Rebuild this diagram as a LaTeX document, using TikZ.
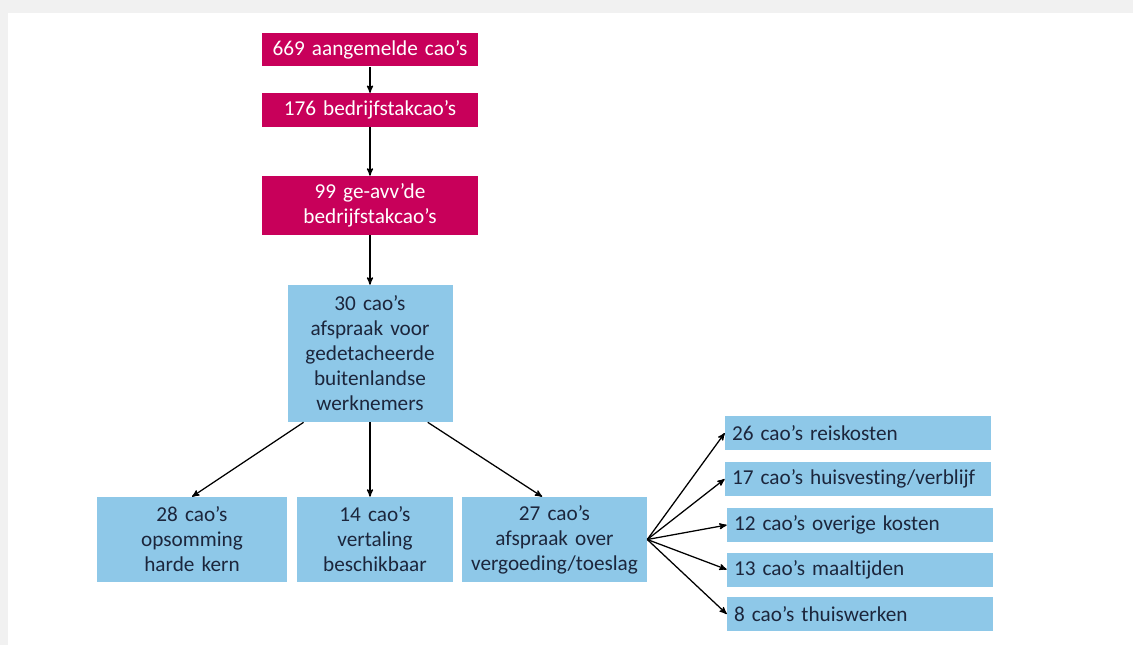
\documentclass[tikz,border=0pt]{standalone}
\usepackage{fontspec}
\setmainfont{Carlito}[Ligatures=NoCommon]
\usepackage{tikz}
\usetikzlibrary{arrows,positioning}
\definecolor{roze}{RGB}{200,0,90}
\definecolor{lichtblauw}{RGB}{142,200,232}
\definecolor{donker}{RGB}{28,38,60}
\definecolor{rand}{RGB}{241,241,241}
\tikzset{
    %Define standard arrow tip
    >=stealth',
    %Define style for the pink boxes
    roosvak/.style={
           rectangle,
           fill=roze,
           text=white,
           text width=5.1cm,
           inner xsep=0.15cm,
           inner ysep=0pt,
           minimum height=0.84cm,
           font=\fontsize{15.1}{17.8}\selectfont,
           text centered},
    %Define style for the blue boxes
    blauwvak/.style={
           rectangle,
           fill=lichtblauw,
           text=donker,
           inner xsep=0.15cm,
           inner ysep=0pt,
           font=\fontsize{15.1}{17.8}\selectfont,
           text centered},
    %Define style for the cost boxes
    kostvak/.style={
           blauwvak,
           text width=6.3cm,
           inner xsep=0.175cm,
           minimum height=0.85cm,
           align=left},
    % Define arrow style
    pijl/.style={
           ->,
           line width=0.9pt}
}
\begin{document}
\begin{tikzpicture}

\useasboundingbox (0,0) rectangle (28.325,-16.125);
% page frame
\fill[rand] (0,0) rectangle (28.325,-16.125);
\fill[white] (0.2,-0.325) rectangle (28.325,-16.125);

%registered
\node[roosvak] (aangemeld) at (9.25,-1.2375) {669 aangemelde cao’s};
%sector
\node[roosvak] (sector) at (9.25,-2.75) {176 bedrijfstakcao’s}
  edge[pijl, <-] (aangemeld);
%avv
\node[roosvak, minimum height=1.475cm] (avv) at (9.25,-5.1375) {99 ge-avv’de\\bedrijfstakcao’s}
  edge[pijl, <-] (sector);
%posted workers
\node[blauwvak, text width=3.825cm, minimum height=3.425cm] (gedetacheerd) at (9.25,-8.8375)
  {30 cao’s\\afspraak voor\\gedetacheerde\\buitenlandse\\werknemers}
  edge[pijl, <-] (avv);

%three sub boxes
\node[blauwvak, text width=4.45cm, minimum height=2.125cm] (kern) at (4.8,-13.4875)
  {28 cao’s\\opsomming\\harde kern};
\node[blauwvak, text width=3.6cm, minimum height=2.125cm] (vertaling) at (9.375,-13.4875)
  {14 cao’s\\vertaling\\beschikbaar};
\node[blauwvak, text width=4.325cm, minimum height=2.125cm] (vergoeding) at (13.8625,-13.4875)
  {27 cao’s\\afspraak over\\vergoeding/toeslag};

\path (gedetacheerd.226) edge[pijl] (kern.north)
      (gedetacheerd.south) edge[pijl] (gedetacheerd.south |- vertaling.north)
      (gedetacheerd.-50) edge[pijl] (vergoeding.106);

%costs
\node[kostvak] (reis) at (21.45,-10.825) {26 cao’s reiskosten};
\node[kostvak] (huis) at (21.45,-11.975) {17 cao’s huisvesting/verblijf};
\node[kostvak] (overig) at (21.5,-13.125) {12 cao’s overige kosten};
\node[kostvak] (maal) at (21.5,-14.2375) {13 cao’s maaltijden};
\node[kostvak] (thuis) at (21.5,-15.35) {8 cao’s thuiswerken};

\foreach \k in {reis,huis,overig,maal,thuis}
  \draw[pijl] (vergoeding.east) -- (\k.west);

\end{tikzpicture}
\end{document}
